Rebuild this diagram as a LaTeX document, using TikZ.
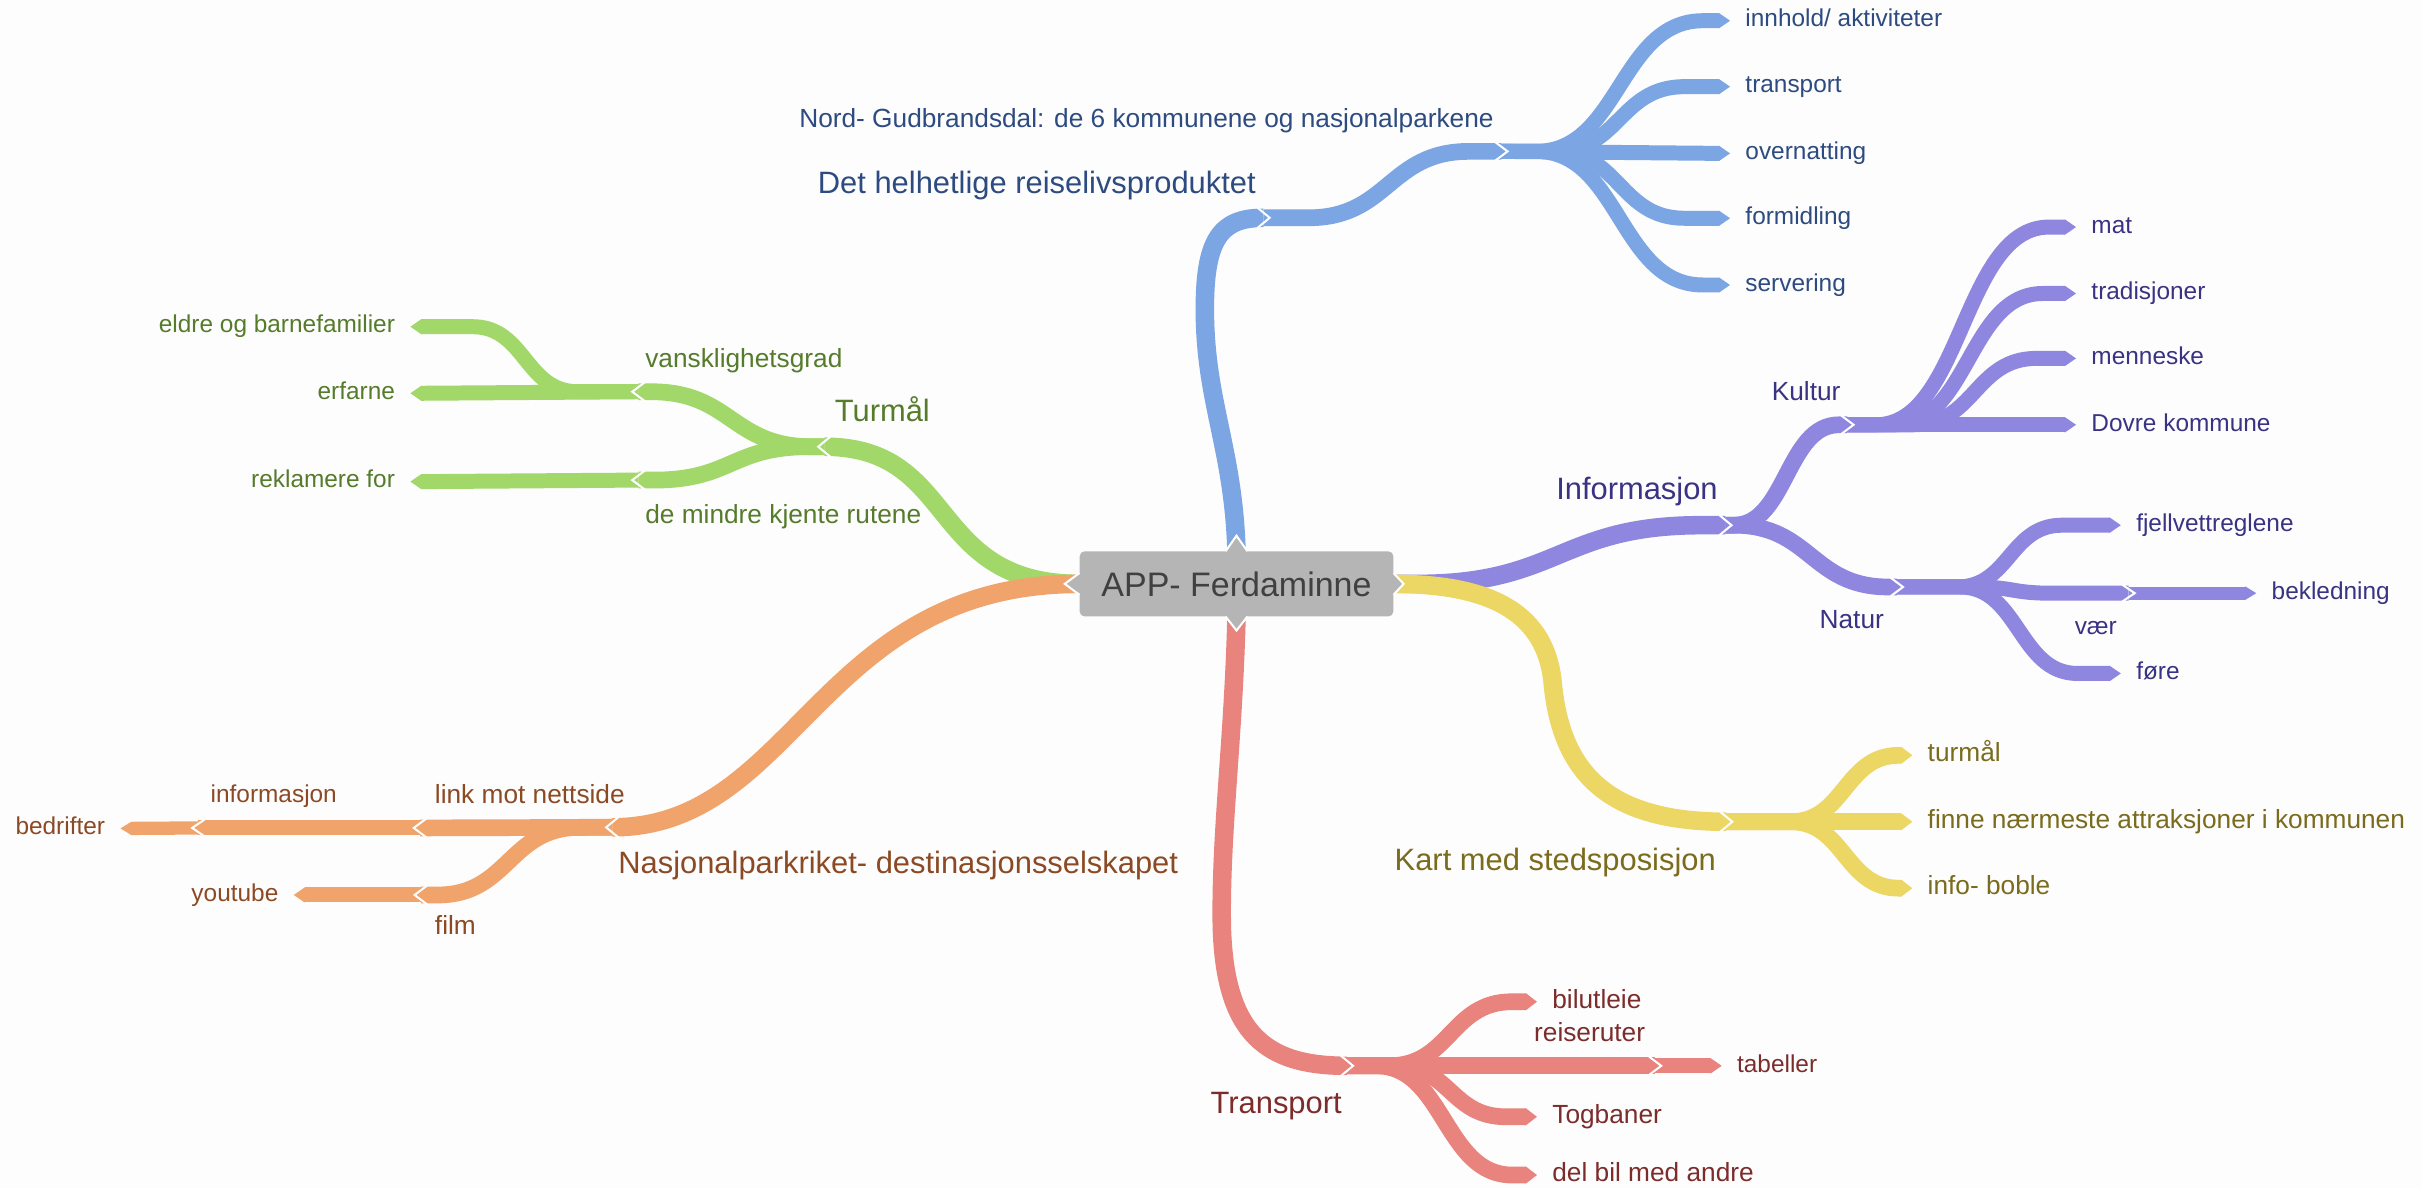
\documentclass[tikz,border=0pt]{standalone}
\usepackage{fontspec}
\setmainfont{Liberation Sans}
\usetikzlibrary{calc}
\definecolor{bgc}{HTML}{FDFDFD}
\definecolor{boxg}{HTML}{B5B5B5}
\definecolor{rootT}{HTML}{404040}
\definecolor{cbl}{HTML}{7BA5E3}
\definecolor{cblT}{HTML}{2D4B80}
\definecolor{cpu}{HTML}{8F87DF}
\definecolor{cpuT}{HTML}{3A3283}
\definecolor{cye}{HTML}{ECD664}
\definecolor{cyeT}{HTML}{7A6B1D}
\definecolor{cre}{HTML}{E8837E}
\definecolor{creT}{HTML}{7D2C2C}
\definecolor{cgr}{HTML}{A2D76A}
\definecolor{cgrT}{HTML}{557B2B}
\definecolor{cor}{HTML}{F0A46C}
\definecolor{corT}{HTML}{8C4A24}
% S-shaped ribbon between two named points: #4 half-span, #5 shift of centre
\newcommand\mmbranch[5]{%
  \draw[#1] let \p1=(#2), \p2=(#3), \n1={(\x1+\x2)/2+(#5)} in
    (\p1) -- ({\n1*1pt-(#4)*1pt},\y1)
    .. controls ({\n1*1pt},\y1) and ({\n1*1pt},\y2) .. ({\n1*1pt+(#4)*1pt},\y2) -- (\p2);}
\newcommand\mmtipR[3]{\fill[#1] ($(#2)+(-0.4,-#3)$) -- ($(#2)+(0,-#3)$) -- ($(#2)+(7,0)$) -- ($(#2)+(0,#3)$) -- ($(#2)+(-0.4,#3)$) -- cycle;}
\newcommand\mmtipL[3]{\fill[#1] ($(#2)+(0.4,-#3)$) -- ($(#2)+(0,-#3)$) -- ($(#2)+(-7,0)$) -- ($(#2)+(0,#3)$) -- ($(#2)+(0.4,#3)$) -- cycle;}
\newcommand\mmchevR[2]{\draw[white,line width=1.3pt,line cap=butt,line join=miter] ($(#1)+(-4,-#2)$) -- ($(#1)+(4,0)$) -- ($(#1)+(-4,#2)$);}
\newcommand\mmchevL[2]{\draw[white,line width=1.3pt,line cap=butt,line join=miter] ($(#1)+(4,-#2)$) -- ($(#1)+(-4,0)$) -- ($(#1)+(4,#2)$);}
\begin{document}
\begin{tikzpicture}[x=1pt,y=-1pt,
  lab/.style={inner sep=0pt,outer sep=0pt},
  fA/.style={lab,font=\fontsize{20}{24}\selectfont,text height=14.4pt,text depth=4.2pt},
  fB/.style={lab,font=\fontsize{17}{20}\selectfont,text height=12.2pt,text depth=3.6pt},
  fC/.style={lab,font=\fontsize{15.8}{19}\selectfont,text height=11.4pt,text depth=3.3pt},
  ribA/.style={line width=12pt,line cap=butt,line join=round},
  ribB/.style={line width=10.8pt,line cap=butt,line join=round},
  ribC/.style={line width=9.7pt,line cap=butt,line join=round},
  ribD/.style={line width=8.6pt,line cap=butt,line join=round},
  rootbox/.style={fill=boxg,rounded corners=3pt,minimum width=203pt,minimum height=42pt,inner sep=0pt,font=\fontsize{22}{26}\selectfont,text=rootT},
]
\useasboundingbox (0,0) rectangle (1568,769);
\fill[bgc] (0,0) rectangle (1568,769);
\node[rootbox] (root) at (800.5,378) {APP- Ferdaminne};

% ---------- labels ----------
% blue
\node[fA,text=cblT,anchor=east] (det) at (813,120) {Det helhetlige reiselivsproduktet};
\node[fB,text=cblT,anchor=east] (nord) at (967,78) {Nord- Gudbrandsdal: de 6 kommunene og nasjonalparkene};
\node[fC,text=cblT,anchor=west] (innhold) at (1130,13.4) {innhold/ aktiviteter};
\node[fC,text=cblT,anchor=west] (transp) at (1130,56.1) {transport};
\node[fC,text=cblT,anchor=west] (overn) at (1130,99.3) {overnatting};
\node[fC,text=cblT,anchor=west] (formid) at (1130,141.3) {formidling};
\node[fC,text=cblT,anchor=west] (serv) at (1130,184.5) {servering};
% purple
\node[fA,text=cpuT,anchor=east] (info) at (1112,318.5) {Informasjon};
\node[fB,text=cpuT,anchor=east] (kultur) at (1191.5,254.7) {Kultur};
\node[fB,text=cpuT,anchor=east] (natur) at (1219.6,402.3) {Natur};
\node[fC,text=cpuT,anchor=west] (mat) at (1354,147) {mat};
\node[fC,text=cpuT,anchor=west] (trad) at (1354,190) {tradisjoner};
\node[fC,text=cpuT,anchor=west] (menn) at (1354,232) {menneske};
\node[fC,text=cpuT,anchor=west] (dovre) at (1354,275) {Dovre kommune};
\node[fC,text=cpuT,anchor=west] (fjell) at (1383,340) {fjellvettreglene};
\node[fC,text=cpuT,anchor=east] (vaer) at (1370.4,407) {vær};
\node[fC,text=cpuT,anchor=west] (bekl) at (1470.7,384) {bekledning};
\node[fC,text=cpuT,anchor=west] (fore) at (1383,436) {føre};
% yellow
\node[fA,text=cyeT,anchor=east] (kart) at (1110.8,558.2) {Kart med stedsposisjon};
\node[fB,text=cyeT,anchor=west] (turm) at (1248,489) {turmål};
\node[fB,text=cyeT,anchor=west] (finne) at (1248,532) {finne nærmeste attraksjoner i kommunen};
\node[fB,text=cyeT,anchor=west] (boble) at (1248,575) {info- boble};
% red
\node[fA,text=creT,anchor=east] (transport) at (868.6,715.7) {Transport};
\node[fB,text=creT,anchor=west] (bil) at (1005,648.5) {bilutleie};
\node[fB,text=creT,anchor=east] (reise) at (1065,670) {reiseruter};
\node[fC,text=creT,anchor=west] (tab) at (1124.6,690) {tabeller};
\node[fB,text=creT,anchor=west] (tog) at (1005,723) {Togbaner};
\node[fB,text=creT,anchor=west] (delbil) at (1005,760.7) {del bil med andre};
% green
\node[fA,text=cgrT,anchor=west] (turmaal) at (540.5,268) {Turmål};
\node[fB,text=cgrT,anchor=west] (vansk) at (417.8,233.5) {vansklighetsgrad};
\node[fB,text=cgrT,anchor=west] (mindre) at (417.8,334.5) {de mindre kjente rutene};
\node[fC,text=cgrT,anchor=east] (eldre) at (255.7,211.5) {eldre og barnefamilier};
\node[fC,text=cgrT,anchor=east] (erfarne) at (255.7,254.6) {erfarne};
\node[fC,text=cgrT,anchor=east] (reklam) at (255.7,311.8) {reklamere for};
% orange
\node[fA,text=corT,anchor=west] (nasj) at (400.3,560.3) {Nasjonalparkriket- destinasjonsselskapet};
\node[fB,text=corT,anchor=west] (link) at (281.6,515.8) {link mot nettside};
\node[fB,text=corT,anchor=west] (film) at (281.6,601) {film};
\node[fC,text=corT,anchor=west] (oinfo) at (136.4,515.8) {informasjon};
\node[fC,text=corT,anchor=east] (you) at (180.2,579.4) {youtube};
\node[fC,text=corT,anchor=east] (bedr) at (68,536.3) {bedrifter};

% ---------- junctions ----------
\coordinate (b0) at (780,200);
\coordinate (b1) at (818,141);
\coordinate (b2) at (972,98);
\coordinate (p1) at (1117,340);
\coordinate (k1) at (1196,275);
\coordinate (n1) at (1228,380);
\coordinate (v1) at (1378,384);
\coordinate (y0) at (1005,440);
\coordinate (y1) at (1117.5,532);
\coordinate (r0) at (791,600);
\coordinate (r1) at (872,690);
\coordinate (r2) at (1071.5,690);
\coordinate (g1) at (533.7,289.2);
\coordinate (gv) at (413.3,253.6);
\coordinate (gd) at (413.3,310.8);
\coordinate (o1) at (396.4,535.6);
\coordinate (ol) at (271.9,536);
\coordinate (of) at (272.4,579.4);
\coordinate (oi) at (128.4,536);
% tip bases
\foreach \n in {innhold,transp,overn,formid,serv,mat,trad,menn,dovre,fjell,bekl,fore,turm,finne,boble,bil,tab,tog,delbil,oinfo}
  {\coordinate (t\n) at ($(\n.west)+(-17,0)$);}
\foreach \n in {eldre,erfarne,reklam,you,bedr}
  {\coordinate (t\n) at ($(\n.east)+(17,0)$);}

% ---------- green ----------
\draw[ribA,cgr] (root.west) .. controls +(-99,0) and +(87,0) .. (g1);
\mmbranch{ribB,cgr}{g1}{gv}{-52}{0}
\mmbranch{ribB,cgr}{g1}{gd}{-50}{0}
\mmbranch{ribC,cgr}{gv}{teldre}{-34}{-3}
\draw[ribC,cgr] (gv) -- (terfarne);
\draw[ribC,cgr] (gd) -- (treklam);
% ---------- orange ----------
\draw[ribA,cor] (root.west) .. controls +(-169,0) and +(118.6,0) .. (o1);
\draw[ribB,cor] (o1) -- (ol);
\mmbranch{ribB,cor}{o1}{of}{-46}{-5}
\draw[ribC,cor] (ol) -- (oi);
\draw[ribC,cor] (of) -- (tyou);
\draw[ribD,cor] (oi) -- (tbedr);
% ---------- blue ----------
\draw[ribA,cbl] (root.north) .. controls +(-2,-67) and +(0,60) .. (b0) .. controls +(0,-45) and +(-28,0) .. (b1);
\mmbranch{ribB,cbl}{b1}{b2}{52}{4}
\mmbranch{ribC,cbl}{b2}{tinnhold}{54}{6}
\mmbranch{ribC,cbl}{b2}{ttransp}{42}{6}
\draw[ribC,cbl] (b2) -- (tovern);
\mmbranch{ribC,cbl}{b2}{tformid}{42}{6}
\mmbranch{ribC,cbl}{b2}{tserv}{54}{6}
% ---------- purple ----------
\mmbranch{ribA,cpu}{root.east}{p1}{92}{0}
\mmbranch{ribB,cpu}{p1}{k1}{34}{0}
\mmbranch{ribB,cpu}{p1}{n1}{50}{0}
\mmbranch{ribC,cpu}{k1}{tmat}{56}{4}
\mmbranch{ribC,cpu}{k1}{ttrad}{48}{8}
\mmbranch{ribC,cpu}{k1}{tmenn}{40}{12}
\draw[ribC,cpu] (k1) -- (tdovre);
\mmbranch{ribC,cpu}{n1}{tfjell}{34}{4}
\mmbranch{ribC,cpu}{n1}{v1}{24}{0}
\mmbranch{ribC,cpu}{n1}{tfore}{38}{10}
\draw[ribD,cpu] (v1) -- (tbekl);
% ---------- yellow ----------
\draw[ribA,cye] (root.east) .. controls +(68,0) and +(-5,-40) .. (y0) .. controls +(5,60) and +(-77,0) .. (y1);
\mmbranch{ribB,cye}{y1}{tturm}{35}{20}
\draw[ribB,cye] (y1) -- (tfinne);
\mmbranch{ribB,cye}{y1}{tboble}{35}{20}
% ---------- red ----------
\draw[ribA,cre] (root.south) .. controls +(-2,81) and +(-1,-60) .. (r0) .. controls +(2,70) and +(-52,0) .. (r1);
\mmbranch{ribB,cre}{r1}{tbil}{40}{9}
\draw[ribB,cre] (r1) -- (r2);
\mmbranch{ribB,cre}{r1}{ttog}{36}{9}
\mmbranch{ribB,cre}{r1}{tdelbil}{44}{5}
\draw[ribC,cre] (r2) -- (ttab);

% ---------- junction notches ----------
\mmchevR{b1}{6.6}
\mmchevR{b2}{6}
\mmchevR{p1}{6.6}
\mmchevR{k1}{6}
\mmchevR{n1}{6}
\mmchevR{v1}{5.4}
\mmchevR{y1}{6.6}
\mmchevR{r1}{6.6}
\mmchevR{r2}{6}
\mmchevL{g1}{6.6}
\mmchevL{gv}{6}
\mmchevL{gd}{6}
\mmchevL{o1}{6.6}
\mmchevL{ol}{6}
\mmchevL{of}{6}
\mmchevL{oi}{5.4}

% ---------- leaf tips ----------
\foreach \n in {innhold,transp,overn,formid,serv} {\mmtipR{cbl}{t\n}{4.85}}
\foreach \n in {mat,trad,menn,dovre,fjell,fore} {\mmtipR{cpu}{t\n}{4.85}}
\mmtipR{cpu}{tbekl}{4.3}
\foreach \n in {turm,finne,boble} {\mmtipR{cye}{t\n}{5.4}}
\foreach \n in {bil,tog,delbil} {\mmtipR{cre}{t\n}{5.4}}
\mmtipR{cre}{ttab}{4.85}
\foreach \n in {eldre,erfarne,reklam} {\mmtipL{cgr}{t\n}{4.85}}
\mmtipL{cor}{tyou}{4.85}
\mmtipL{cor}{tbedr}{4.3}

% ---------- peaks of the centre box ----------
\fill[boxg] ($(root.north)+(-7,1)$) -- ($(root.north)+(0,-10)$) -- ($(root.north)+(7,1)$) -- cycle;
\draw[white,line width=1.3pt] ($(root.north)+(-7,0)$) -- ($(root.north)+(0,-10)$) -- ($(root.north)+(7,0)$);
\fill[boxg] ($(root.south)+(-7,-1)$) -- ($(root.south)+(0,9)$) -- ($(root.south)+(7,-1)$) -- cycle;
\draw[white,line width=1.3pt] ($(root.south)+(-7,0)$) -- ($(root.south)+(0,9)$) -- ($(root.south)+(7,0)$);
\fill[boxg] ($(root.west)+(1,-7)$) -- ($(root.west)+(-9.5,0)$) -- ($(root.west)+(1,7)$) -- cycle;
\draw[white,line width=1.3pt] ($(root.west)+(0,-7)$) -- ($(root.west)+(-9.5,0)$) -- ($(root.west)+(0,7)$);
\fill[boxg] ($(root.east)+(-1,-7)$) -- ($(root.east)+(6.5,0)$) -- ($(root.east)+(-1,7)$) -- cycle;
\draw[white,line width=1.3pt] ($(root.east)+(0,-7)$) -- ($(root.east)+(6.5,0)$) -- ($(root.east)+(0,7)$);
\end{tikzpicture}
\end{document}
